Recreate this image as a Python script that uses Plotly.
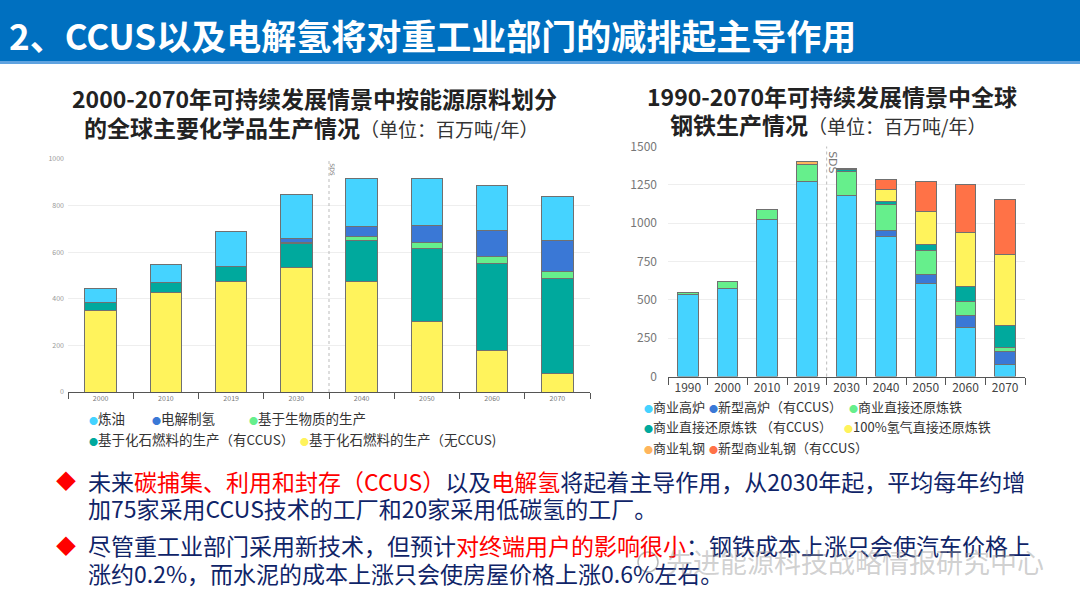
import plotly.graph_objects as go

W, H = 1080, 608

# ---------------- data: chemicals (Mt / yr) ----------------
chem_years = ["2000", "2010", "2019", "2030", "2040", "2050", "2060", "2070"]
chem_fossil_no_ccus = [350, 425, 475, 535, 475, 302, 176, 80]
chem_fossil_ccus = [32, 43, 64, 101, 176, 316, 377, 405]
chem_bio = [0, 0, 0, 7, 18, 23, 28, 31]
chem_electrolytic_h2 = [0, 0, 0, 16, 40, 74, 111, 136]
chem_refining = [61, 78, 148, 188, 206, 203, 193, 185]

# ---------------- data: steel (Mt / yr) ----------------
steel_years = ["1990", "2000", "2010", "2019", "2030", "2040", "2050", "2060", "2070"]
steel_bf = [532, 577, 1022, 1272, 1179, 914, 608, 321, 80]
steel_bf_ccus = [0, 0, 0, 0, 0, 37, 54, 76, 85]
steel_dri = [17, 42, 70, 113, 158, 173, 163, 91, 26]
steel_dri_ccus = [0, 0, 0, 0, 10, 16, 37, 100, 139]
steel_h2_dri = [0, 0, 0, 0, 0, 78, 212, 348, 467]
steel_rolling = [0, 0, 0, 15, 8, 0, 0, 0, 0]
steel_rolling_ccus = [0, 0, 0, 0, 0, 69, 198, 319, 356]

chem_y_ticks = [0, 200, 400, 600, 800, 1000]
steel_y_ticks = [0, 250, 500, 750, 1000, 1250, 1500]

C_LB = "#45D3FF"
C_DB = "#3A78D6"
C_GR = "#66EF8C"
C_TE = "#00A99D"
C_YE = "#FFF35C"
C_OR = "#FFB55C"
C_RD = "#FF7247"

FONT = "Noto Sans CJK SC"


def nz(a):
    return [v if v else None for v in a]


def px(x):
    return x / W


def py(y):
    return 1 - y / H


fig = go.Figure()

chem_series = [
    ("基于化石燃料的生产（无CCUS）", chem_fossil_no_ccus, C_YE),
    ("基于化石燃料的生产（有CCUS）", chem_fossil_ccus, C_TE),
    ("基于生物质的生产", chem_bio, C_GR),
    ("电解制氢", chem_electrolytic_h2, C_DB),
    ("炼油", chem_refining, C_LB),
]
for name, vals, col in chem_series:
    fig.add_trace(go.Bar(
        x=chem_years, y=nz(vals), name=name, width=0.48,
        marker=dict(color=col, line=dict(color="#707070", width=1)),
        xaxis="x", yaxis="y", showlegend=False))

steel_series = [
    ("商业高炉", steel_bf, C_LB),
    ("新型高炉（有CCUS）", steel_bf_ccus, C_DB),
    ("商业直接还原炼铁", steel_dri, C_GR),
    ("商业直接还原炼铁 （有CCUS）", steel_dri_ccus, C_TE),
    ("100%氢气直接还原炼铁", steel_h2_dri, C_YE),
    ("商业轧钢", steel_rolling, C_OR),
    ("新型商业轧钢（有CCUS）", steel_rolling_ccus, C_RD),
]
for name, vals, col in steel_series:
    fig.add_trace(go.Bar(
        x=steel_years, y=nz(vals), name=name, width=0.52,
        marker=dict(color=col, line=dict(color="#707070", width=1)),
        xaxis="x2", yaxis="y2", showlegend=False))

ann = []
shapes = []


def note(text, x, y, size, color="#222222", xanchor="left", **kw):
    d = dict(text=text, xref="paper", yref="paper", x=px(x), y=py(y),
             xanchor=xanchor, yanchor="middle", showarrow=False,
             font=dict(family=FONT, size=size, color=color))
    d.update(kw)
    ann.append(d)


# header bar
shapes.append(dict(type="rect", xref="paper", yref="paper", x0=0, x1=1,
                   y0=py(61), y1=1, fillcolor="#0070C0", line=dict(width=0), layer="below"))
shapes.append(dict(type="rect", xref="paper", yref="paper", x0=0, x1=1,
                   y0=py(64), y1=py(61), fillcolor="#5FA3E0", line=dict(width=0), layer="below"))
note("<b>2、CCUS以及电解氢将对重工业部门的减排起主导作用</b>", 7, 35, 35, "white")

# chart titles
UNIT = "<span style=\"font-size:19px;color:#333333\">（单位：百万吨/年）</span>"
note("<b>2000-2070年可持续发展情景中按能源原料划分</b>", 70, 97.5, 23)
note("<b>的全球主要化学品生产情况</b>" + UNIT, 82, 127.5, 23)
note("<b>1990-2070年可持续发展情景中全球</b>", 645, 96, 23)
note("<b>钢铁生产情况</b>" + UNIT, 668, 124, 23)

# SDS reference lines
for xr, yr, fs, xs in [("x", "y", 6, 4), ("x2", "y2", 11, 6)]:
    shapes.append(dict(type="line", xref=xr, yref=yr + " domain", x0=3.5, x1=3.5,
                       y0=0, y1=1, line=dict(color="#bbbbbb", width=1, dash="dot")))
    ann.append(dict(text="SDS", xref=xr, yref=yr + " domain", x=3.5, y=0.99,
                    xshift=xs, textangle=90, xanchor="center", yanchor="top",
                    showarrow=False,
                    font=dict(family="DejaVu Sans", size=fs, color="#777777")))


def legend_item(x, y, color, label, size):
    note(f"<span style=\"color:{color};font-size:9px\">●</span>{label}", x, y, size, "#333333")


# left legend
legend_item(87, 418, C_LB, "炼油", 13.5)
legend_item(150, 418, C_DB, "电解制氢", 13.5)
legend_item(247, 418, C_GR, "基于生物质的生产", 13.5)
legend_item(87, 439, C_TE, "基于化石燃料的生产（有CCUS）", 13.5)
legend_item(298, 439, C_YE, "基于化石燃料的生产（无CCUS)", 13.5)

# right legend
legend_item(642, 406, C_LB, "商业高炉", 13)
legend_item(707, 406, C_DB, "新型高炉（有CCUS）", 13)
legend_item(847, 406, C_GR, "商业直接还原炼铁", 13)
legend_item(642, 426, C_TE, "商业直接还原炼铁 （有CCUS）", 13)
legend_item(842, 426, C_YE, "100%氢气直接还原炼铁", 13)
legend_item(642, 447, C_OR, "商业轧钢", 13)
legend_item(707, 447, C_RD, "新型商业轧钢（有CCUS）", 13)

# bottom text
NAVY = "#0F2468"
RED = "#FF0000"
for y in (481, 545):
    note("◆", 66, y, 20, RED, xanchor="center")
lines = [
    (481, f"未来<span style=\"color:{RED}\">碳捕集、利用和封存（CCUS）</span>以及<span style=\"color:{RED}\">电解氢</span>将起着主导作用，从2030年起，平均每年约增"),
    (508, "加75家采用CCUS技术的工厂和20家采用低碳氢的工厂。"),
    (545, f"尽管重工业部门采用新技术，但预计<span style=\"color:{RED}\">对终端用户的影响很小</span>：钢铁成本上涨只会使汽车价格上"),
    (573, "涨约0.2%，而水泥的成本上涨只会使房屋价格上涨0.6%左右。"),
]
for y, t in lines:
    note(t, 86, y, 23, NAVY)

# watermark
shapes.append(dict(type="circle", xref="paper", yref="paper",
                   x0=px(638), x1=px(658), y0=py(572), y1=py(552),
                   line=dict(color="rgba(140,140,140,0.6)", width=1.5)))
note("先进能源科技战略情报研究中心", 664, 561, 27, "rgba(150,150,150,0.45)")

fig.update_layout(
    width=W, height=H, margin=dict(l=0, r=0, t=0, b=0, pad=0, autoexpand=False),
    paper_bgcolor="white", plot_bgcolor="white",
    barmode="stack", showlegend=False,
    xaxis=dict(domain=[px(68), px(590)], anchor="y", type="category",
               tickson="boundaries", ticks="outside", ticklen=6, tickcolor="#555555",
               showline=True, linecolor="#555555", linewidth=1, showgrid=False,
               tickfont=dict(family=FONT, size=7, color="#777777")),
    yaxis=dict(domain=[py(392), py(159)], anchor="x", range=[0, 1000],
               tickvals=chem_y_ticks, showgrid=True, gridcolor="#eeeeee",
               zeroline=False, showline=False, ticklabelstandoff=3,
               tickfont=dict(family=FONT, size=7, color="#999999")),
    xaxis2=dict(domain=[px(668), px(1025)], anchor="y2", type="category",
                tickson="boundaries", ticks="outside", ticklen=7, tickcolor="#555555",
                showline=True, linecolor="#555555", linewidth=1, showgrid=False,
                tickfont=dict(family=FONT, size=12, color="#444444")),
    yaxis2=dict(domain=[py(376.5), py(146.5)], anchor="x2", range=[0, 1500],
                tickvals=steel_y_ticks, showgrid=True, gridcolor="#eeeeee",
                zeroline=False, showline=False, ticklabelstandoff=10,
                tickfont=dict(family=FONT, size=12, color="#777777")),
    annotations=ann, shapes=shapes,
)

fig.write_html("out.html", config={"displayModeBar": False},
               post_script="document.body.style.margin='0';document.body.style.padding='0';"
                           "document.body.style.overflow='hidden';")
